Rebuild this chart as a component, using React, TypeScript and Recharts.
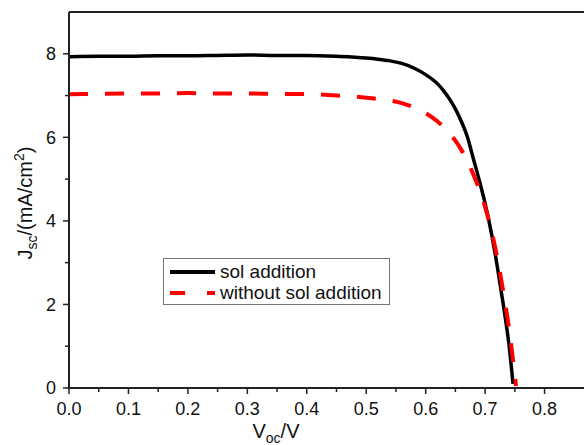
import React from "react";
import { LineChart, Line, XAxis, YAxis, ReferenceLine } from "recharts";

const solV = [0, 0.05, 0.1, 0.15, 0.2, 0.25, 0.3, 0.35, 0.4, 0.45, 0.5, 0.52, 0.54, 0.56, 0.58, 0.6, 0.62, 0.63, 0.64, 0.65, 0.66, 0.67, 0.68, 0.69, 0.7, 0.71, 0.72, 0.73, 0.74, 0.747];
const solJ = [7.93, 7.94, 7.94, 7.95, 7.95, 7.96, 7.97, 7.96, 7.96, 7.94, 7.9, 7.87, 7.83, 7.77, 7.66, 7.5, 7.28, 7.12, 6.92, 6.68, 6.38, 6.02, 5.5, 4.98, 4.42, 3.75, 2.95, 2.05, 1.05, 0.1];

const noSolV = [0, 0.05, 0.1, 0.15, 0.2, 0.25, 0.3, 0.35, 0.4, 0.45, 0.5, 0.53, 0.56, 0.58, 0.6, 0.62, 0.64, 0.65, 0.66, 0.67, 0.68, 0.69, 0.7, 0.71, 0.72, 0.73, 0.74, 0.752];
const noSolJ = [7.03, 7.04, 7.05, 7.05, 7.06, 7.05, 7.05, 7.04, 7.04, 7.0, 6.95, 6.9, 6.82, 6.72, 6.58, 6.38, 6.1, 5.92, 5.7, 5.44, 5.12, 4.76, 4.33, 3.8, 3.15, 2.35, 1.45, 0.05];

const xTicks = [0, 0.05, 0.1, 0.15, 0.2, 0.25, 0.3, 0.35, 0.4, 0.45, 0.5, 0.55, 0.6, 0.65, 0.7, 0.75, 0.8];
const yTicks = [0, 1, 2, 3, 4, 5, 6, 7, 8];

const seriesNames = ["sol addition", "without sol addition"];

const solData = solV.map((v, i) => ({ v, j: solJ[i] }));
const noSolData = noSolV.map((v, i) => ({ v, j: noSolJ[i] }));

const FONT = "'Liberation Sans', Arial, sans-serif";
const AXIS = "#222";

const XTick = (props: any) => {
  const { x, y, payload } = props;
  const val = payload.value as number;
  const major = Math.abs(val * 10 - Math.round(val * 10)) < 1e-6;
  return (
    <g>
      <line x1={x} x2={x} y1={y} y2={y + (major ? 6 : 4)} stroke={AXIS} strokeWidth={1.5} />
      {major && (
        <text x={x} y={y + 27} textAnchor="middle" fontFamily={FONT} fontSize={18} fill="#111">
          {val.toFixed(1)}
        </text>
      )}
    </g>
  );
};

const YTick = (props: any) => {
  const { x, y, payload } = props;
  const val = payload.value as number;
  const major = val % 2 === 0;
  return (
    <g>
      <line x1={x} x2={x - (major ? 6 : 4)} y1={y} y2={y} stroke={AXIS} strokeWidth={1.5} />
      {major && (
        <text x={x - 13} y={y} dy="0.36em" textAnchor="end" fontFamily={FONT} fontSize={18} fill="#111">
          {String(val)}
        </text>
      )}
    </g>
  );
};

const YLabel = () => (
  <text transform="translate(32,203) rotate(-90)" textAnchor="middle" fontFamily={FONT} fontSize={20} fill="#111">
    <tspan>J</tspan>
    <tspan dy={5} fontSize={14}>sc</tspan>
    <tspan dy={-5}>/(mA/cm</tspan>
    <tspan dy={-8} fontSize={14}>2</tspan>
    <tspan dy={8}>)</tspan>
  </text>
);

const XLabel = () => (
  <text x={276} y={438} textAnchor="middle" fontFamily={FONT} fontSize={20} fill="#111">
    <tspan>V</tspan>
    <tspan dy={5} fontSize={14}>oc</tspan>
    <tspan dy={-5}>/V</tspan>
  </text>
);

const LegendBox = () => (
  <div
    style={{
      position: "absolute",
      left: 163,
      top: 258,
      width: 227,
      height: 47,
      border: "1px solid #777",
      background: "#fff",
      boxSizing: "border-box",
      fontFamily: FONT,
      fontSize: 19,
      color: "#111",
      padding: "2px 0 0 6px",
      whiteSpace: "nowrap",
      overflow: "hidden",
    }}
  >
    <div style={{ display: "flex", alignItems: "center", height: 21 }}>
      <svg width={46} height={10}>
        <line x1={0} x2={45} y1={5} y2={5} stroke="#000" strokeWidth={4} />
      </svg>
      <span style={{ marginLeft: 4 }}>{seriesNames[0]}</span>
    </div>
    <div style={{ display: "flex", alignItems: "center", height: 21 }}>
      <svg width={46} height={10}>
        <line x1={0} x2={45} y1={5} y2={5} stroke="#ff0000" strokeWidth={4} strokeDasharray="15 22" />
      </svg>
      <span style={{ marginLeft: 4 }}>{seriesNames[1]}</span>
    </div>
  </div>
);

export default function App() {
  return (
    <div style={{ position: "absolute", left: 0, top: 0, width: 584, height: 445, overflow: "hidden", background: "#fff" }}>
      <LineChart width={614} height={445} margin={{ top: 12, right: 10, left: 0, bottom: 0 }}>
        <XAxis
          type="number"
          dataKey="v"
          domain={[0, 0.9]}
          ticks={xTicks}
          interval={0}
          height={57}
          axisLine={{ stroke: AXIS, strokeWidth: 2 }}
          tickLine={false}
          tickSize={0}
          tickMargin={0}
          tick={<XTick />}
          allowDataOverflow
        />
        <YAxis
          type="number"
          dataKey="j"
          domain={[0, 9]}
          ticks={yTicks}
          interval={0}
          width={69}
          axisLine={{ stroke: AXIS, strokeWidth: 2 }}
          tickLine={false}
          tickSize={0}
          tickMargin={0}
          tick={<YTick />}
        />
        <ReferenceLine y={9} stroke={AXIS} strokeWidth={2} />
        <Line
          data={solData}
          dataKey="j"
          name={seriesNames[0]}
          type="monotone"
          stroke="#000"
          strokeWidth={3.5}
          dot={false}
          isAnimationActive={false}
        />
        <Line
          data={noSolData}
          dataKey="j"
          name={seriesNames[1]}
          type="monotone"
          stroke="#ff0000"
          strokeWidth={4}
          strokeDasharray="19 17"
          dot={false}
          isAnimationActive={false}
        />
        <YLabel />
        <XLabel />
      </LineChart>
      <LegendBox />
    </div>
  );
}
